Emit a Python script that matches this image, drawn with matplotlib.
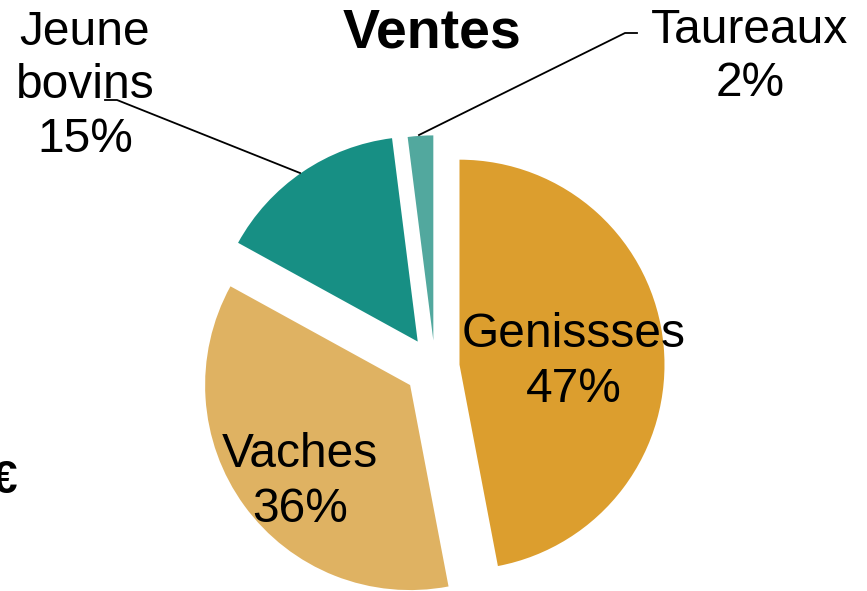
import matplotlib.pyplot as plt

# données
categories = ['Genissses', 'Vaches', 'Jeune\nbovins', 'Taureaux']
parts = [47, 36, 15, 2]
couleurs = ['#DC9E2E', '#DFB262', '#178F84', '#52A89E']

plt.rcParams['font.family'] = ['Liberation Sans', 'DejaVu Sans']

W, H = 867, 591
fig = plt.figure(figsize=(W / 100, H / 100), dpi=100)
ax = fig.add_axes([0, 0, 1, 1])
ax.axis('off')

# camembert en coordonnées pixel (y vers le haut)
R = 205
centre = (435, H - 367)
eclat = [0.12 * R, 0.15 * R, 0.15 * R, 0.13 * R]

ax.pie(parts, colors=couleurs, startangle=90, counterclock=False,
       radius=R, center=centre, explode=eclat,
       wedgeprops=dict(linewidth=0))
ax.set_xlim(0, W)
ax.set_ylim(0, H)
ax.set_aspect('auto')

fs = 34.5
ls = 1.3
# étiquettes dans les parts
ax.text(574, H - 362, f'{categories[0]}\n{parts[0]}%', ha='center', va='center',
        fontsize=fs, linespacing=ls)
ax.text(300, H - 482, f'{categories[1]}\n{parts[1]}%', ha='center', va='center',
        fontsize=fs, linespacing=ls)

# étiquettes extérieures
ax.text(85, H - 86, f'{categories[2]}\n{parts[2]}%', ha='center', va='center',
        fontsize=fs, linespacing=1.25)
ax.text(750, H - 57, f'{categories[3]}\n{parts[3]}%', ha='center', va='center',
        fontsize=fs, linespacing=1.25)

# lignes de rappel
ax.plot([105, 117, 300], [H - 100, H - 100, H - 173], color='black', lw=1.3)
ax.plot([637, 625, 419], [H - 33, H - 33, H - 135], color='black', lw=1.3)

# titre
ax.text(432, H - 34, 'Ventes', ha='center', va='center', fontsize=40,
        fontweight='bold')

# symbole coupé au bord gauche
ax.text(17, H - 493, '€', ha='right', va='baseline', fontsize=33,
        fontweight='bold')

fig.savefig('out.png', dpi=100)
